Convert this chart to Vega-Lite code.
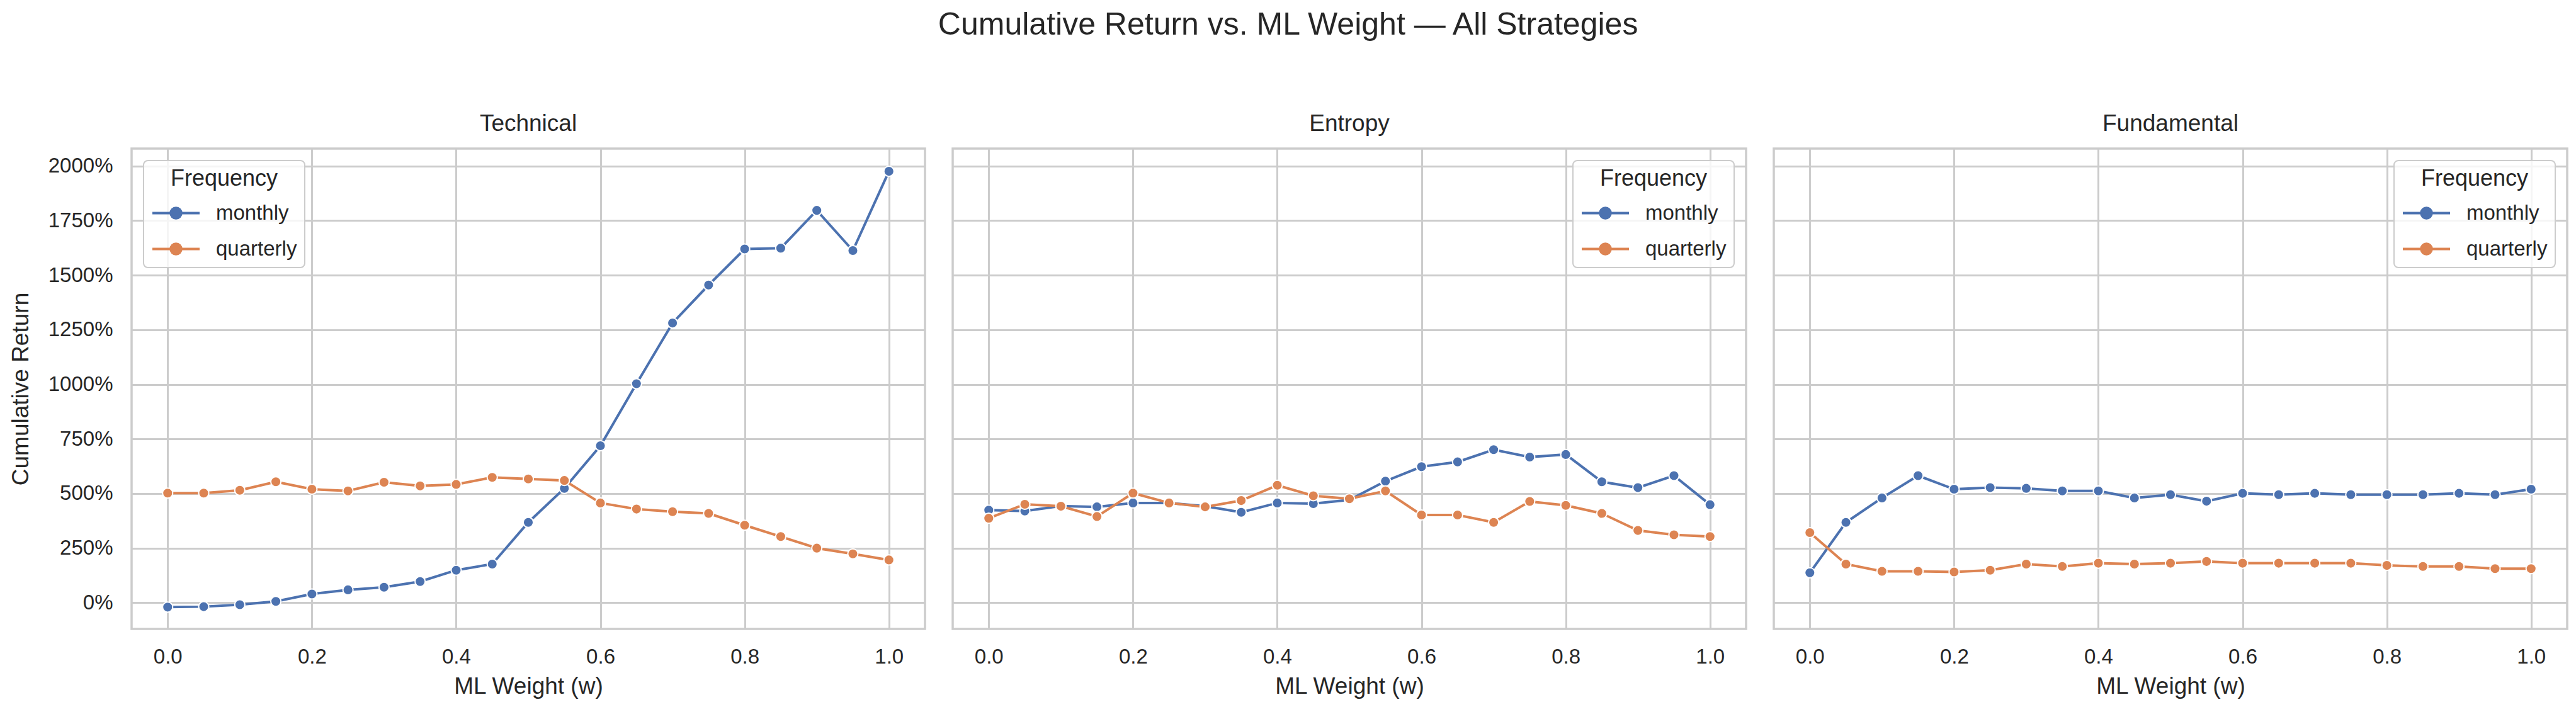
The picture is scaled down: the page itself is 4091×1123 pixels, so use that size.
{
  "$schema": "https://vega.github.io/schema/vega-lite/v6.json",
  "padding": {"left": 12, "top": 15, "right": 20, "bottom": 10},
  "background": "white",
  "title": {
    "text": "Cumulative Return vs. ML Weight — All Strategies",
    "fontSize": 50,
    "fontWeight": "normal",
    "anchor": "middle",
    "color": "#262626",
    "offset": 111
  },
  "datasets": {
    "returns": [
      {"strategy": "Technical", "frequency": "monthly", "w": 0.0, "ret": -20},
      {"strategy": "Technical", "frequency": "monthly", "w": 0.05, "ret": -18},
      {"strategy": "Technical", "frequency": "monthly", "w": 0.1, "ret": -9},
      {"strategy": "Technical", "frequency": "monthly", "w": 0.15, "ret": 6},
      {"strategy": "Technical", "frequency": "monthly", "w": 0.2, "ret": 40},
      {"strategy": "Technical", "frequency": "monthly", "w": 0.25, "ret": 59},
      {"strategy": "Technical", "frequency": "monthly", "w": 0.3, "ret": 71},
      {"strategy": "Technical", "frequency": "monthly", "w": 0.35, "ret": 97},
      {"strategy": "Technical", "frequency": "monthly", "w": 0.4, "ret": 149},
      {"strategy": "Technical", "frequency": "monthly", "w": 0.45, "ret": 177},
      {"strategy": "Technical", "frequency": "monthly", "w": 0.5, "ret": 368},
      {"strategy": "Technical", "frequency": "monthly", "w": 0.55, "ret": 524},
      {"strategy": "Technical", "frequency": "monthly", "w": 0.6, "ret": 719},
      {"strategy": "Technical", "frequency": "monthly", "w": 0.65, "ret": 1003},
      {"strategy": "Technical", "frequency": "monthly", "w": 0.7, "ret": 1281},
      {"strategy": "Technical", "frequency": "monthly", "w": 0.75, "ret": 1455},
      {"strategy": "Technical", "frequency": "monthly", "w": 0.8, "ret": 1620},
      {"strategy": "Technical", "frequency": "monthly", "w": 0.85, "ret": 1624},
      {"strategy": "Technical", "frequency": "monthly", "w": 0.9, "ret": 1797},
      {"strategy": "Technical", "frequency": "monthly", "w": 0.95, "ret": 1613},
      {"strategy": "Technical", "frequency": "monthly", "w": 1.0, "ret": 1976},
      {"strategy": "Technical", "frequency": "quarterly", "w": 0.0, "ret": 502},
      {"strategy": "Technical", "frequency": "quarterly", "w": 0.05, "ret": 502},
      {"strategy": "Technical", "frequency": "quarterly", "w": 0.1, "ret": 515},
      {"strategy": "Technical", "frequency": "quarterly", "w": 0.15, "ret": 554},
      {"strategy": "Technical", "frequency": "quarterly", "w": 0.2, "ret": 520},
      {"strategy": "Technical", "frequency": "quarterly", "w": 0.25, "ret": 512},
      {"strategy": "Technical", "frequency": "quarterly", "w": 0.3, "ret": 552},
      {"strategy": "Technical", "frequency": "quarterly", "w": 0.35, "ret": 535},
      {"strategy": "Technical", "frequency": "quarterly", "w": 0.4, "ret": 542},
      {"strategy": "Technical", "frequency": "quarterly", "w": 0.45, "ret": 574},
      {"strategy": "Technical", "frequency": "quarterly", "w": 0.5, "ret": 567},
      {"strategy": "Technical", "frequency": "quarterly", "w": 0.55, "ret": 560},
      {"strategy": "Technical", "frequency": "quarterly", "w": 0.6, "ret": 457},
      {"strategy": "Technical", "frequency": "quarterly", "w": 0.65, "ret": 429},
      {"strategy": "Technical", "frequency": "quarterly", "w": 0.7, "ret": 417},
      {"strategy": "Technical", "frequency": "quarterly", "w": 0.75, "ret": 409},
      {"strategy": "Technical", "frequency": "quarterly", "w": 0.8, "ret": 355},
      {"strategy": "Technical", "frequency": "quarterly", "w": 0.85, "ret": 303},
      {"strategy": "Technical", "frequency": "quarterly", "w": 0.9, "ret": 250},
      {"strategy": "Technical", "frequency": "quarterly", "w": 0.95, "ret": 224},
      {"strategy": "Technical", "frequency": "quarterly", "w": 1.0, "ret": 196},
      {"strategy": "Entropy", "frequency": "monthly", "w": 0.0, "ret": 424},
      {"strategy": "Entropy", "frequency": "monthly", "w": 0.05, "ret": 420},
      {"strategy": "Entropy", "frequency": "monthly", "w": 0.1, "ret": 443},
      {"strategy": "Entropy", "frequency": "monthly", "w": 0.15, "ret": 439},
      {"strategy": "Entropy", "frequency": "monthly", "w": 0.2, "ret": 457},
      {"strategy": "Entropy", "frequency": "monthly", "w": 0.25, "ret": 457},
      {"strategy": "Entropy", "frequency": "monthly", "w": 0.3, "ret": 442},
      {"strategy": "Entropy", "frequency": "monthly", "w": 0.35, "ret": 414},
      {"strategy": "Entropy", "frequency": "monthly", "w": 0.4, "ret": 457},
      {"strategy": "Entropy", "frequency": "monthly", "w": 0.45, "ret": 454},
      {"strategy": "Entropy", "frequency": "monthly", "w": 0.5, "ret": 471},
      {"strategy": "Entropy", "frequency": "monthly", "w": 0.55, "ret": 557},
      {"strategy": "Entropy", "frequency": "monthly", "w": 0.6, "ret": 623},
      {"strategy": "Entropy", "frequency": "monthly", "w": 0.65, "ret": 645},
      {"strategy": "Entropy", "frequency": "monthly", "w": 0.7, "ret": 701},
      {"strategy": "Entropy", "frequency": "monthly", "w": 0.75, "ret": 667},
      {"strategy": "Entropy", "frequency": "monthly", "w": 0.8, "ret": 679},
      {"strategy": "Entropy", "frequency": "monthly", "w": 0.85, "ret": 554},
      {"strategy": "Entropy", "frequency": "monthly", "w": 0.9, "ret": 527},
      {"strategy": "Entropy", "frequency": "monthly", "w": 0.95, "ret": 582},
      {"strategy": "Entropy", "frequency": "monthly", "w": 1.0, "ret": 449},
      {"strategy": "Entropy", "frequency": "quarterly", "w": 0.0, "ret": 387},
      {"strategy": "Entropy", "frequency": "quarterly", "w": 0.05, "ret": 451},
      {"strategy": "Entropy", "frequency": "quarterly", "w": 0.1, "ret": 442},
      {"strategy": "Entropy", "frequency": "quarterly", "w": 0.15, "ret": 395},
      {"strategy": "Entropy", "frequency": "quarterly", "w": 0.2, "ret": 502},
      {"strategy": "Entropy", "frequency": "quarterly", "w": 0.25, "ret": 457},
      {"strategy": "Entropy", "frequency": "quarterly", "w": 0.3, "ret": 439},
      {"strategy": "Entropy", "frequency": "quarterly", "w": 0.35, "ret": 468},
      {"strategy": "Entropy", "frequency": "quarterly", "w": 0.4, "ret": 538},
      {"strategy": "Entropy", "frequency": "quarterly", "w": 0.45, "ret": 490},
      {"strategy": "Entropy", "frequency": "quarterly", "w": 0.5, "ret": 476},
      {"strategy": "Entropy", "frequency": "quarterly", "w": 0.55, "ret": 512},
      {"strategy": "Entropy", "frequency": "quarterly", "w": 0.6, "ret": 402},
      {"strategy": "Entropy", "frequency": "quarterly", "w": 0.65, "ret": 402},
      {"strategy": "Entropy", "frequency": "quarterly", "w": 0.7, "ret": 368},
      {"strategy": "Entropy", "frequency": "quarterly", "w": 0.75, "ret": 464},
      {"strategy": "Entropy", "frequency": "quarterly", "w": 0.8, "ret": 446},
      {"strategy": "Entropy", "frequency": "quarterly", "w": 0.85, "ret": 409},
      {"strategy": "Entropy", "frequency": "quarterly", "w": 0.9, "ret": 331},
      {"strategy": "Entropy", "frequency": "quarterly", "w": 0.95, "ret": 311},
      {"strategy": "Entropy", "frequency": "quarterly", "w": 1.0, "ret": 303},
      {"strategy": "Fundamental", "frequency": "monthly", "w": 0.0, "ret": 137},
      {"strategy": "Fundamental", "frequency": "monthly", "w": 0.05, "ret": 368},
      {"strategy": "Fundamental", "frequency": "monthly", "w": 0.1, "ret": 480},
      {"strategy": "Fundamental", "frequency": "monthly", "w": 0.15, "ret": 582},
      {"strategy": "Fundamental", "frequency": "monthly", "w": 0.2, "ret": 520},
      {"strategy": "Fundamental", "frequency": "monthly", "w": 0.25, "ret": 527},
      {"strategy": "Fundamental", "frequency": "monthly", "w": 0.3, "ret": 524},
      {"strategy": "Fundamental", "frequency": "monthly", "w": 0.35, "ret": 512},
      {"strategy": "Fundamental", "frequency": "monthly", "w": 0.4, "ret": 512},
      {"strategy": "Fundamental", "frequency": "monthly", "w": 0.45, "ret": 480},
      {"strategy": "Fundamental", "frequency": "monthly", "w": 0.5, "ret": 495},
      {"strategy": "Fundamental", "frequency": "monthly", "w": 0.55, "ret": 465},
      {"strategy": "Fundamental", "frequency": "monthly", "w": 0.6, "ret": 501},
      {"strategy": "Fundamental", "frequency": "monthly", "w": 0.65, "ret": 495},
      {"strategy": "Fundamental", "frequency": "monthly", "w": 0.7, "ret": 501},
      {"strategy": "Fundamental", "frequency": "monthly", "w": 0.75, "ret": 495},
      {"strategy": "Fundamental", "frequency": "monthly", "w": 0.8, "ret": 495},
      {"strategy": "Fundamental", "frequency": "monthly", "w": 0.85, "ret": 495},
      {"strategy": "Fundamental", "frequency": "monthly", "w": 0.9, "ret": 501},
      {"strategy": "Fundamental", "frequency": "monthly", "w": 0.95, "ret": 495},
      {"strategy": "Fundamental", "frequency": "monthly", "w": 1.0, "ret": 520},
      {"strategy": "Fundamental", "frequency": "quarterly", "w": 0.0, "ret": 321},
      {"strategy": "Fundamental", "frequency": "quarterly", "w": 0.05, "ret": 177},
      {"strategy": "Fundamental", "frequency": "quarterly", "w": 0.1, "ret": 144},
      {"strategy": "Fundamental", "frequency": "quarterly", "w": 0.15, "ret": 144},
      {"strategy": "Fundamental", "frequency": "quarterly", "w": 0.2, "ret": 141},
      {"strategy": "Fundamental", "frequency": "quarterly", "w": 0.25, "ret": 149},
      {"strategy": "Fundamental", "frequency": "quarterly", "w": 0.3, "ret": 177},
      {"strategy": "Fundamental", "frequency": "quarterly", "w": 0.35, "ret": 166},
      {"strategy": "Fundamental", "frequency": "quarterly", "w": 0.4, "ret": 181},
      {"strategy": "Fundamental", "frequency": "quarterly", "w": 0.45, "ret": 177},
      {"strategy": "Fundamental", "frequency": "quarterly", "w": 0.5, "ret": 181},
      {"strategy": "Fundamental", "frequency": "quarterly", "w": 0.55, "ret": 189},
      {"strategy": "Fundamental", "frequency": "quarterly", "w": 0.6, "ret": 181},
      {"strategy": "Fundamental", "frequency": "quarterly", "w": 0.65, "ret": 181},
      {"strategy": "Fundamental", "frequency": "quarterly", "w": 0.7, "ret": 181},
      {"strategy": "Fundamental", "frequency": "quarterly", "w": 0.75, "ret": 181},
      {"strategy": "Fundamental", "frequency": "quarterly", "w": 0.8, "ret": 171},
      {"strategy": "Fundamental", "frequency": "quarterly", "w": 0.85, "ret": 166},
      {"strategy": "Fundamental", "frequency": "quarterly", "w": 0.9, "ret": 166},
      {"strategy": "Fundamental", "frequency": "quarterly", "w": 0.95, "ret": 156},
      {"strategy": "Fundamental", "frequency": "quarterly", "w": 1.0, "ret": 156}
    ]
  },
  "data": {"name": "returns"},
  "spacing": 40,
  "resolve": {"scale": {"color": "independent"}, "legend": {"color": "independent"}},
  "hconcat": [
    {
      "width": 1260,
      "height": 763,
      "title": {"text": "Technical"},
      "transform": [{"filter": "datum.strategy === 'Technical'"}],
      "encoding": {
        "x": {
          "field": "w", "type": "quantitative", "title": "ML Weight (w)",
          "scale": {"domain": [-0.05, 1.05], "nice": false, "zero": false},
          "axis": {"values": [0, 0.2, 0.4, 0.6, 0.8, 1.0], "format": ".1f"}
        },
        "y": {
          "field": "ret", "type": "quantitative", "title": "Cumulative Return",
          "scale": {"domain": [-120, 2080], "nice": false, "zero": false},
          "axis": {"values": [0, 250, 500, 750, 1000, 1250, 1500, 1750, 2000], "labelExpr": "datum.value + '%'"}
        },
        "color": {
          "field": "frequency", "type": "nominal", "title": "Frequency",
          "scale": {"domain": ["monthly", "quarterly"], "range": ["#4C72B0", "#DD8452"]},
          "legend": {"orient": "top-left"}
        }
      },
      "layer": [
        {"mark": {"type": "line", "strokeWidth": 4}},
        {"mark": {"type": "point", "filled": true, "size": 260, "stroke": "white", "strokeWidth": 2, "opacity": 1}}
      ]
    },
    {
      "width": 1260,
      "height": 763,
      "title": {"text": "Entropy"},
      "transform": [{"filter": "datum.strategy === 'Entropy'"}],
      "encoding": {
        "x": {
          "field": "w", "type": "quantitative", "title": "ML Weight (w)",
          "scale": {"domain": [-0.05, 1.05], "nice": false, "zero": false},
          "axis": {"values": [0, 0.2, 0.4, 0.6, 0.8, 1.0], "format": ".1f"}
        },
        "y": {
          "field": "ret", "type": "quantitative", "title": null,
          "scale": {"domain": [-120, 2080], "nice": false, "zero": false},
          "axis": {"values": [0, 250, 500, 750, 1000, 1250, 1500, 1750, 2000], "labels": false}
        },
        "color": {
          "field": "frequency", "type": "nominal", "title": "Frequency",
          "scale": {"domain": ["monthly", "quarterly"], "range": ["#4C72B0", "#DD8452"]},
          "legend": {"orient": "top-right"}
        }
      },
      "layer": [
        {"mark": {"type": "line", "strokeWidth": 4}},
        {"mark": {"type": "point", "filled": true, "size": 260, "stroke": "white", "strokeWidth": 2, "opacity": 1}}
      ]
    },
    {
      "width": 1260,
      "height": 763,
      "title": {"text": "Fundamental"},
      "transform": [{"filter": "datum.strategy === 'Fundamental'"}],
      "encoding": {
        "x": {
          "field": "w", "type": "quantitative", "title": "ML Weight (w)",
          "scale": {"domain": [-0.05, 1.05], "nice": false, "zero": false},
          "axis": {"values": [0, 0.2, 0.4, 0.6, 0.8, 1.0], "format": ".1f"}
        },
        "y": {
          "field": "ret", "type": "quantitative", "title": null,
          "scale": {"domain": [-120, 2080], "nice": false, "zero": false},
          "axis": {"values": [0, 250, 500, 750, 1000, 1250, 1500, 1750, 2000], "labels": false}
        },
        "color": {
          "field": "frequency", "type": "nominal", "title": "Frequency",
          "scale": {"domain": ["monthly", "quarterly"], "range": ["#4C72B0", "#DD8452"]},
          "legend": {"orient": "top-right"}
        }
      },
      "layer": [
        {"mark": {"type": "line", "strokeWidth": 4}},
        {"mark": {"type": "point", "filled": true, "size": 260, "stroke": "white", "strokeWidth": 2, "opacity": 1}}
      ]
    }
  ],
  "config": {
    "font": "Liberation Sans",
    "view": {"stroke": "#cccccc", "strokeWidth": 3.5},
    "title": {"fontSize": 37, "fontWeight": "normal", "color": "#262626", "offset": 20, "baseline": "alphabetic"},
    "axis": {
      "grid": true,
      "gridColor": "#cccccc",
      "gridWidth": 3,
      "domain": false,
      "ticks": false,
      "labelFontSize": 33,
      "labelColor": "#262626",
      "titleFontSize": 37,
      "titleFontWeight": "normal",
      "titleColor": "#262626"
    },
    "axisX": {"labelPadding": 28, "titlePadding": 12},
    "axisY": {"labelPadding": 30, "titlePadding": 24},
    "legend": {
      "offset": 19,
      "padding": 12,
      "fillColor": "rgba(255,255,255,0.8)",
      "strokeColor": "#cccccc",
      "strokeWidth": 2,
      "cornerRadius": 7,
      "titleFontSize": 36,
      "titleFontWeight": "normal",
      "titleColor": "#262626",
      "titleAnchor": "middle",
      "titlePadding": -4,
      "labelFontSize": 33,
      "labelColor": "#262626",
      "labelOffset": 24,
      "rowPadding": -14,
      "symbolType": "M-1,0H-0.24M0.24,0H1M0.22,0A0.22,0.22 0 1,1 -0.22,0A0.22,0.22 0 1,1 0.22,0Z",
      "symbolSize": 5625,
      "symbolStrokeWidth": 4
    }
  }
}
